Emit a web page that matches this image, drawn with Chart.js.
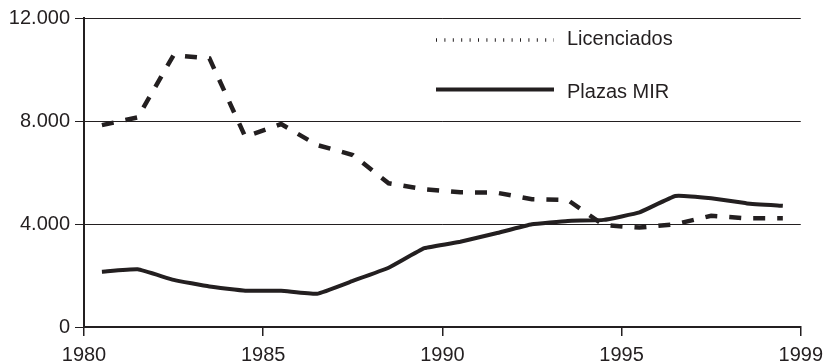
<!DOCTYPE html>
<html>
<head>
<meta charset="utf-8">
<script src="https://cdn.jsdelivr.net/npm/chart.js@4/dist/chart.umd.min.js"></script>
<style>
html,body{margin:0;padding:0;background:#fff;}
canvas{display:block;}
</style>
</head>
<body>
<canvas id="c" width="830" height="364"></canvas>
<script>
// Data
const years = [1980,1981,1982,1983,1984,1985,1986,1987,1988,1989,1990,1991,1992,1993,1994,1995,1996,1997,1998,1999];
const licenciados = [7840,8140,10560,10430,7390,7880,7070,6680,5580,5350,5230,5220,4960,4930,3960,3860,3990,4320,4220,4220];
const plazasMIR = [2150,2240,1830,1570,1410,1410,1290,1790,2300,3060,3310,3640,3990,4120,4160,4450,5090,5000,4800,4710];
const xTickLabels = ['1980','1985','1990','1995','1999'];
const yTickValues = [0,4000,8000,12000];
const seriesNames = ['Licenciados','Plazas MIR'];

const INK = '#231f20';
const FONT = '"Liberation Sans", Arial, Helvetica, sans-serif';

function pts(arr){ return arr.map((v,i)=>({x: years[i] + 0.5, y: v})); }

const legendPlugin = {
  id: 'insideLegend',
  afterDraw(chart){
    const ctx = chart.ctx;
    const ds = chart.data.datasets;
    ctx.save();
    ctx.font = '20px ' + FONT;
    ctx.fillStyle = INK;
    ctx.textBaseline = 'alphabetic';
    ctx.textAlign = 'left';
    const rows = [
      {y: 40, base: 45, dash: [1, 7.4], w: 3.5},
      {y: 89.5, base: 97.5, dash: [], w: 4}
    ];
    rows.forEach((r, i) => {
      ctx.beginPath();
      ctx.setLineDash(r.dash);
      ctx.lineWidth = r.w;
      ctx.strokeStyle = INK;
      ctx.lineCap = 'butt';
      ctx.moveTo(436, r.y);
      ctx.lineTo(554, r.y);
      ctx.stroke();
      ctx.setLineDash([]);
      ctx.fillText(ds[i].label, 567, r.base);
    });
    ctx.restore();
  }
};

new Chart(document.getElementById('c'), {
  type: 'line',
  data: {
    datasets: [
      {
        label: seriesNames[0],
        data: pts(licenciados),
        borderColor: INK,
        borderWidth: 4.5,
        borderDash: [12, 12],
        pointRadius: 0,
        tension: 0,
        fill: false
      },
      {
        label: seriesNames[1],
        data: pts(plazasMIR),
        borderColor: INK,
        borderWidth: 4,
        pointRadius: 0,
        tension: 0.1,
        fill: false
      }
    ]
  },
  options: {
    responsive: false,
    animation: false,
    layout: {padding: {top: 18, right: 25, left: 0, bottom: 0}},
    plugins: {legend: {display: false}, tooltip: {enabled: false}},
    scales: {
      x: {
        type: 'linear',
        min: years[0],
        max: years[years.length-1] + 1,
        afterBuildTicks: s => { s.ticks = [0,5,10,15,20].map(o => ({value: years[0] + o})); },
        ticks: {
          callback: (v, i) => xTickLabels[i],
          autoSkip: false, maxRotation: 0,
          font: {family: FONT, size: 20},
          color: INK,
          padding: 7
        },
        grid: {drawOnChartArea: false, drawTicks: true, tickLength: 9, color: INK, lineWidth: 1.5},
        border: {color: INK, width: 2},
        afterFit: s => { s.height = 37; }
      },
      y: {
        min: 0, max: 12000,
        afterBuildTicks: s => { s.ticks = yTickValues.map(v => ({value: v})); },
        ticks: {
          callback: v => v === 0 ? '0' : v.toLocaleString('de-DE'),
          font: {family: FONT, size: 20},
          color: INK,
          padding: 5
        },
        grid: {color: INK, lineWidth: 1, tickLength: 9},
        border: {color: INK, width: 2},
        afterFit: s => { s.width = 84; }
      }
    }
  },
  plugins: [legendPlugin]
});
</script>
</body>
</html>
